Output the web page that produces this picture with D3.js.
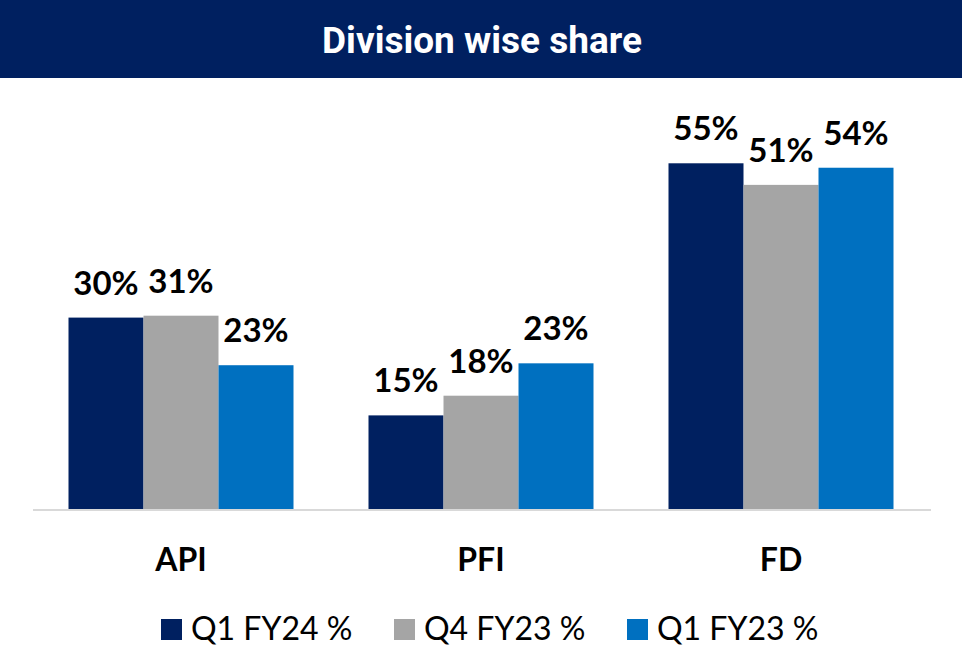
<!DOCTYPE html>
<html>
<head>
<meta charset="utf-8">
<script src="https://cdn.jsdelivr.net/npm/d3@7"></script>
<style>
  body { margin: 0; background: #fff; }
  svg { display: block; }
</style>
</head>
<body>
<div id="chart"></div>
<script>
// data
var divisions = ['API', 'PFI', 'FD'];
var seriesNames = ['Q1 FY24 %', 'Q4 FY23 %', 'Q1 FY23 %'];
var q1fy24 = [30.3, 14.9, 54.6];
var q4fy23 = [30.6, 18.0, 51.2];
var q1fy23 = [22.8, 23.1, 53.9];
var seriesColors = ['#002060', '#A5A5A5', '#0070C0'];

var seriesValues = [q1fy24, q4fy23, q1fy23];

var W = 962, H = 646;
var svg = d3.select('#chart').append('svg')
    .attr('width', W).attr('height', H);

// title banner
svg.append('rect')
    .attr('x', 0).attr('y', 0).attr('width', W).attr('height', 78)
    .attr('fill', '#002060');
svg.append('text')
    .attr('x', 482).attr('y', 53)
    .attr('text-anchor', 'middle')
    .attr('font-family', 'Roboto, sans-serif')
    .attr('font-weight', 'bold')
    .attr('font-size', 37)
    .attr('fill', '#fff')
    .text('Division wise share');

// scales
var x = d3.scaleBand().domain(divisions).range([31, 931])
    .paddingInner(0.25).paddingOuter(0.125);
var xs = d3.scaleBand().domain(seriesNames).range([0, x.bandwidth()]);
var y = d3.scaleLinear().domain([0, 60]).range([510, 129]);

// bars
var groups = svg.selectAll('g.grp').data(divisions).enter().append('g')
    .attr('class', 'grp')
    .attr('transform', function(d) { return 'translate(' + x(d) + ',0)'; });

groups.each(function(div, i) {
  var g = d3.select(this);
  seriesNames.forEach(function(s, j) {
    var v = seriesValues[j][i];
    g.append('rect')
      .attr('x', xs(s)).attr('y', y(v))
      .attr('width', xs.bandwidth()).attr('height', y(0) - y(v))
      .attr('fill', seriesColors[j]);
    g.append('text')
      .attr('x', xs(s) + xs.bandwidth() / 2).attr('y', y(v) - 23)
      .attr('text-anchor', 'middle')
      .attr('font-family', 'Lato, sans-serif')
      .attr('font-weight', 'bold')
      .attr('font-size', 33)
      .attr('fill', '#000')
      .text(d3.format('.0f')(v) + '%');
  });
});

// axis line
var xAxis = d3.axisBottom(x).tickSize(0).tickPadding(0);
var ax = svg.append('g').attr('transform', 'translate(0,' + y(0) + ')').call(xAxis);
ax.select('.domain').attr('stroke', '#D9D9D9').attr('stroke-width', 2)
    .attr('d', 'M' + 33 + ',0H' + 931);
ax.selectAll('.tick text')
    .attr('dy', 0).attr('y', 61)
    .attr('font-family', 'Lato, sans-serif')
    .attr('font-weight', 'bold')
    .attr('font-size', 32)
    .attr('fill', '#000');

// legend
var legendX = [161, 394, 627];
var leg = svg.selectAll('g.leg').data(seriesNames).enter().append('g')
    .attr('class', 'leg')
    .attr('transform', function(d, i) { return 'translate(' + legendX[i] + ',619)'; });
leg.append('rect').attr('width', 21).attr('height', 21)
    .attr('fill', function(d, i) { return seriesColors[i]; });
leg.append('text')
    .attr('x', 30).attr('y', 21)
    .attr('font-family', 'Lato, sans-serif')
    .attr('font-size', 32)
    .attr('fill', '#000')
    .text(function(d) { return d; });
</script>
</body>
</html>
